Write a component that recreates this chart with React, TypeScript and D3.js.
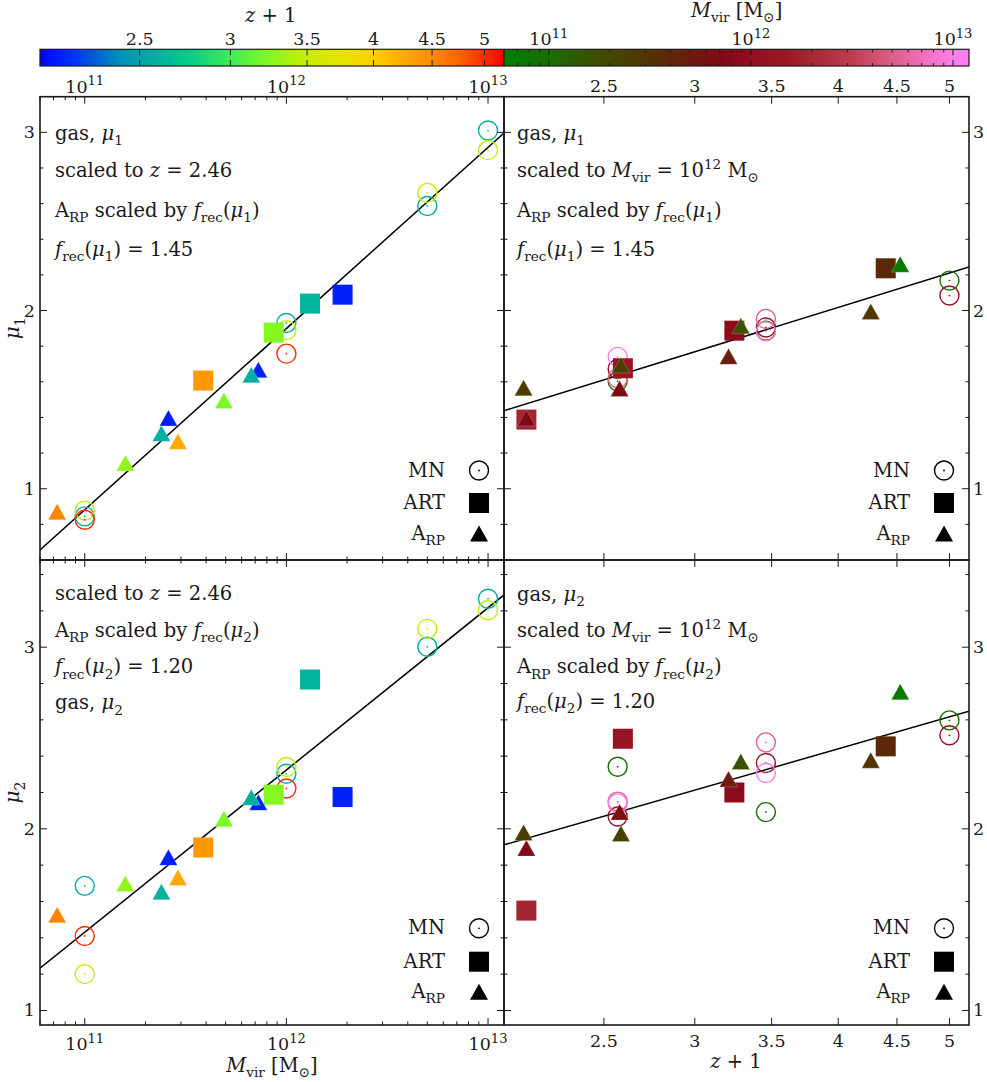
import React from 'react';
import * as d3 from 'd3';

// ---------------- data ----------------
// MN simulations (open circles): virial mass, z+1
const mnMass = [1e11, 1e11, 1e11, 1e12, 1e12, 1e12, 5e12, 5e12, 1e13, 1e13];
const mnZ1 = [2.57, 3.46, 5.0, 2.57, 3.46, 5.0, 2.57, 3.46, 2.57, 3.46];
const mnMu1VsMass = [0.845, 0.877, 0.826, 1.93, 1.89, 1.758, 2.587, 2.66, 3.01, 2.9];
const mnMu1VsZ = [1.603, 1.887, 2.168, 1.672, 1.905, 2.084, 1.62, 1.953, 1.74, 1.883];
const mnMu2VsMass = [1.686, 1.2, 1.41, 2.303, 2.34, 2.222, 3.002, 3.101, 3.267, 3.203];
const mnMu2VsZ = [2.342, 2.092, 2.597, 2.068, 2.362, 2.515, 2.15, 2.476, 2.14, 2.307];

// ART simulations (squares)
const artMass = [1.9e12, 1.31e12, 8.65e11, 3.87e11];
const artZ1 = [2.14, 2.597, 3.248, 4.4];
const artMu1VsMass = [2.089, 2.039, 1.876, 1.607];
const artMu1VsZ = [1.388, 1.676, 1.887, 2.237];
const artMu2VsMass = [2.175, 2.822, 2.188, 1.897];
const artMu2VsZ = [1.55, 2.496, 2.2, 2.454];

// ART + radiation pressure (triangles)
const arpMass = [7.26e11, 6.7e11, 4.9e11, 2.6e11, 2.4e11, 2.9e11, 1.59e11, 7.3e10];
const arpZ1 = [2.14, 2.58, 3.21, 2.128, 2.587, 4.27, 3.29, 4.53];
const arpMu1VsMass = [1.668, 1.639, 1.495, 1.397, 1.311, 1.266, 1.145, 0.871];
const arpMu1VsZ = [1.397, 1.563, 1.743, 1.566, 1.694, 1.994, 1.914, 2.26];
const arpMu2VsMass = [2.146, 2.174, 2.056, 1.843, 1.654, 1.732, 1.699, 1.527];
const arpMu2VsZ = [1.894, 2.093, 2.275, 1.98, 1.974, 2.378, 2.37, 2.755];

// fits: mu = intercept + slope * log10(x / pivot)
const fitIntercept = [1.899, 1.892, 2.324, 2.326];
const fitSlope = [1.017, 1.99, 0.893, 1.815];
const fitPivotMass = 1e12;
const fitPivotZ1 = 3.46;

// ticks
const massMajorTicks = [1e11, 1e12, 1e13];
const massTickExp = ['11', '12', '13'];
const z1Ticks = [2.5, 3, 3.5, 4, 4.5, 5];
const z1TickLabels = ['2.5', '3', '3.5', '4', '4.5', '5'];
const muTicks = [1, 2, 3];
const muTickLabels = ['1', '2', '3'];

// colour maps
const zCmapStops = [2.046, 2.2, 2.4, 2.55, 2.75, 2.95, 3.2, 3.46, 3.8, 4.0, 4.3, 4.5, 4.75, 5.0, 5.2];
const zCmapColors = ['#0000ff', '#0038f4', '#0090b8', '#00aba5', '#00cc88', '#30e860', '#78f828', '#c0f000', '#ecdf00', '#ffd000', '#ffa400', '#ff8a00', '#ff6400', '#ff2c00', '#ff0000'];
const mCmapStops = [10.778, 11.0, 11.2, 11.4, 11.6, 11.7, 11.85, 12.0, 12.15, 12.3, 12.5, 12.7, 12.85, 13.0, 13.08];
const mCmapColors = ['#008000', '#196e00', '#3a5200', '#4b3e00', '#5c2808', '#6e1c0e', '#800a16', '#940e22', '#981622', '#a52832', '#be3c50', '#de5f87', '#f06eb9', '#ff7deb', '#ff80f0'];

// ---------------- layout ----------------
const W = 987;
const H = 1082;
const L = { left: 40, mid: 504, right: 969, cbTop: 49.3, cbBot: 66, top: 96.7, midY: 560, bottom: 1025 };
const FONT = '"DejaVu Serif", "Liberation Serif", serif';
const INK = '#1a1a1a';

type Part = { t: string; i?: boolean; s?: 'sub' | 'sup' };
const p = (t: string, i = false, s?: 'sub' | 'sup'): Part => ({ t, i, s });

function Rich({ parts, x, y, size, anchor = 'start', transform, supScale = 0.7 }: { parts: Part[]; x: number; y: number; size: number; anchor?: string; transform?: string; supScale?: number }) {
  let cur = 0;
  return (
    <text x={x} y={y} fontSize={size} textAnchor={anchor as any} transform={transform} fontFamily={FONT} fill={INK} style={{ whiteSpace: 'pre' }}>
      {parts.map((q, k) => {
        const target = q.s === 'sub' ? size * 0.28 : q.s === 'sup' ? -size * 0.42 : 0;
        const dy = target - cur;
        cur = target;
        return (
          <tspan key={k} dy={dy} fontStyle={q.i ? 'italic' : 'normal'} fontSize={q.s ? size * supScale : size}>
            {q.t}
          </tspan>
        );
      })}
    </text>
  );
}

const mu = (n: string) => [p('μ', true), p(n, false, 'sub')];
const frec = (n: string) => [p('f', true), p('rec', false, 'sub'), p('('), ...mu(n), p(')')];
const arp = [p('A'), p('RP', false, 'sub')];
const mvir = [p('M', true), p('vir', false, 'sub')];
const msun = [p('M'), p('⊙', false, 'sub')];

const linesTL: Part[][] = [
  [p('gas, '), ...mu('1')],
  [p('scaled to '), p('z', true), p(' = 2.46')],
  [...arp, p(' scaled by '), ...frec('1')],
  [...frec('1'), p(' = 1.45')],
];
const linesTR: Part[][] = [
  [p('gas, '), ...mu('1')],
  [p('scaled to '), ...mvir, p(' = 10'), p('12', false, 'sup'), p(' '), ...msun],
  [...arp, p(' scaled by '), ...frec('1')],
  [...frec('1'), p(' = 1.45')],
];
const linesBL: Part[][] = [
  [p('scaled to '), p('z', true), p(' = 2.46')],
  [...arp, p(' scaled by '), ...frec('2')],
  [...frec('2'), p(' = 1.20')],
  [p('gas, '), ...mu('2')],
];
const linesBR: Part[][] = [
  [p('gas, '), ...mu('2')],
  [p('scaled to '), ...mvir, p(' = 10'), p('12', false, 'sup'), p(' '), ...msun],
  [...arp, p(' scaled by '), ...frec('2')],
  [...frec('2'), p(' = 1.20')],
];

function triPath(cx: number, cy: number, w: number, h: number) {
  return `M${cx},${cy - h / 2}L${cx + w / 2},${cy + h / 2}L${cx - w / 2},${cy + h / 2}Z`;
}

export default function App() {
  const xMass = d3.scaleLog().domain([6e10, 1.2e13]).range([L.left, L.mid]);
  const xZ = d3.scaleLog().domain([2.046, 5.2]).range([L.mid, L.right]);
  const yTop = d3.scaleLinear().domain([0.6, 3.2]).range([L.midY, L.top]);
  const yBot = d3.scaleLinear().domain([0.92, 3.48]).range([L.bottom, L.midY]);
  const zBar = d3.scaleLog().domain([2.046, 5.2]).range([L.left, L.mid]);
  const mBar = d3.scaleLog().domain([6e10, 1.2e13]).range([L.mid, L.right]);

  const zColor = d3.scaleLinear<string>().domain(zCmapStops).range(zCmapColors).interpolate(d3.interpolateRgb).clamp(true);
  const mColorL = d3.scaleLinear<string>().domain(mCmapStops).range(mCmapColors).interpolate(d3.interpolateRgb).clamp(true);
  const mColor = (m: number) => mColorL(Math.log10(m));

  const massMinor = xMass.ticks().filter((t) => !massMajorTicks.some((m) => Math.abs(m - t) / m < 1e-6));
  const muMinorAll = d3.range(0.6, 3.5, 0.2).map((v) => Math.round(v * 10) / 10).filter((v) => Math.abs(v - Math.round(v)) > 1e-6);

  const panels = [
    { key: 'tl', kind: 'mass', y: yTop, row: 'top', side: 'left', mn: mnMu1VsMass, art: artMu1VsMass, arpv: arpMu1VsMass, fit: 0, lines: linesTL, base: [140, 177, 217, 256], textX: 55, legY: [470.5, 503, 533.5] },
    { key: 'tr', kind: 'z', y: yTop, row: 'top', side: 'right', mn: mnMu1VsZ, art: artMu1VsZ, arpv: arpMu1VsZ, fit: 1, lines: linesTR, base: [140, 177, 217, 256], textX: 517, legY: [470.5, 503, 533.5] },
    { key: 'bl', kind: 'mass', y: yBot, row: 'bot', side: 'left', mn: mnMu2VsMass, art: artMu2VsMass, arpv: arpMu2VsMass, fit: 2, lines: linesBL, base: [599.5, 636.5, 673.3, 709.3], textX: 55, legY: [928.3, 961.7, 991.7] },
    { key: 'br', kind: 'z', y: yBot, row: 'bot', side: 'right', mn: mnMu2VsZ, art: artMu2VsZ, arpv: arpMu2VsZ, fit: 3, lines: linesBR, base: [600.7, 636.7, 673.3, 707.7], textX: 517, legY: [928.3, 961.7, 991.7] },
  ];

  const zStopsGrad = zCmapStops.map((s, k) => ({ off: (zBar(s) - L.left) / (L.mid - L.left), c: zCmapColors[k] }));
  const mStopsGrad = mCmapStops.map((s, k) => ({ off: (mBar(Math.pow(10, s)) - L.mid) / (L.right - L.mid), c: mCmapColors[k] }));

  const TICK_FS = 17.5;
  const TXT_FS = 19.5;

  return (
    <svg width={W} height={H} viewBox={`0 0 ${W} ${H}`} style={{ position: 'absolute', left: 0, top: 0, background: '#fff' }}>
      <defs>
        <linearGradient id="zgrad" gradientUnits="userSpaceOnUse" x1={L.left} x2={L.mid} y1={0} y2={0}>
          {zStopsGrad.map((s, k) => (
            <stop key={k} offset={Math.max(0, Math.min(1, s.off))} stopColor={s.c} />
          ))}
        </linearGradient>
        <linearGradient id="mgrad" gradientUnits="userSpaceOnUse" x1={L.mid} x2={L.right} y1={0} y2={0}>
          {mStopsGrad.map((s, k) => (
            <stop key={k} offset={Math.max(0, Math.min(1, s.off))} stopColor={s.c} />
          ))}
        </linearGradient>
        {panels.map((pn) => {
          const x0 = pn.side === 'left' ? L.left : L.mid;
          const x1 = pn.side === 'left' ? L.mid : L.right;
          const [y1, y0] = pn.y.range();
          return (
            <clipPath id={`clip-${pn.key}`} key={pn.key}>
              <rect x={x0} y={y0} width={x1 - x0} height={y1 - y0} />
            </clipPath>
          );
        })}
      </defs>

      {/* ---------- colour bars ---------- */}
      <rect x={L.left} y={L.cbTop} width={L.mid - L.left} height={L.cbBot - L.cbTop} fill="url(#zgrad)" />
      <rect x={L.mid} y={L.cbTop} width={L.right - L.mid} height={L.cbBot - L.cbTop} fill="url(#mgrad)" />
      {z1Ticks.map((t) => (
        <g key={`zbt${t}`} stroke={INK} strokeWidth={1}>
          <line x1={zBar(t)} x2={zBar(t)} y1={L.cbTop} y2={L.cbTop + 6} />
          <line x1={zBar(t)} x2={zBar(t)} y1={L.cbBot} y2={L.cbBot - 6} />
        </g>
      ))}
      {mBar.ticks().map((t, k) => {
        const major = massMajorTicks.some((m) => Math.abs(m - t) / m < 1e-6);
        const len = major ? 6 : 3;
        return (
          <g key={`mbt${k}`} stroke={INK} strokeWidth={1}>
            <line x1={mBar(t)} x2={mBar(t)} y1={L.cbTop} y2={L.cbTop + len} />
            <line x1={mBar(t)} x2={mBar(t)} y1={L.cbBot} y2={L.cbBot - len} />
          </g>
        );
      })}
      <rect x={L.left} y={L.cbTop} width={L.right - L.left} height={L.cbBot - L.cbTop} fill="none" stroke={INK} strokeWidth={1.2} />
      <line x1={L.mid} x2={L.mid} y1={L.cbTop} y2={L.cbBot} stroke={INK} strokeWidth={1.2} />
      {z1Ticks.map((t, k) => (
        <text key={`zbl${k}`} x={zBar(t)} y={44.5} fontSize={TICK_FS} textAnchor="middle" fontFamily={FONT} fill={INK}>
          {z1TickLabels[k]}
        </text>
      ))}
      {massMajorTicks.map((t, k) => (
        <Rich key={`mbl${k}`} parts={[p('10'), p(massTickExp[k], false, 'sup')]} x={mBar(t)} y={45} size={TICK_FS} anchor="middle" supScale={0.75} />
      ))}
      <Rich parts={[p('z', true), p(' + 1')]} x={270.7} y={21.7} size={TXT_FS} anchor="middle" />
      <Rich parts={[...mvir, p(' ['), ...msun, p(']')]} x={736.7} y={17} size={TXT_FS} anchor="middle" />

      {/* ---------- panels ---------- */}
      {panels.map((pn) => {
        const x = pn.kind === 'mass' ? xMass : xZ;
        const x0 = pn.side === 'left' ? L.left : L.mid;
        const x1 = pn.side === 'left' ? L.mid : L.right;
        const [y1, y0] = pn.y.range();
        const [d0, d1] = pn.y.domain();
        const px = (m: number, z: number) => (pn.kind === 'mass' ? xMass(m) : xZ(z));
        const col = (m: number, z: number) => (pn.kind === 'mass' ? zColor(z) : mColor(m));
        const pivot = pn.kind === 'mass' ? fitPivotMass : fitPivotZ1;
        const [xd0, xd1] = x.domain();
        const fitY = (v: number) => fitIntercept[pn.fit] + fitSlope[pn.fit] * Math.log10(v / pivot);
        const xTicksMajor = pn.kind === 'mass' ? massMajorTicks : z1Ticks;
        const xTicksMinor = pn.kind === 'mass' ? massMinor : [];
        const muMinor = muMinorAll.filter((v) => v > d0 + 1e-6 && v < d1 - 1e-6);
        const lx = x1 - 25;
        const ltx = x1 - 59;
        return (
          <g key={pn.key}>
            {/* fit line */}
            <line
              clipPath={`url(#clip-${pn.key})`}
              x1={x(xd0)}
              x2={x(xd1)}
              y1={pn.y(fitY(xd0))}
              y2={pn.y(fitY(xd1))}
              stroke="#000"
              strokeWidth={1.5}
            />
            {/* MN circles */}
            {mnMass.map((m, k) => {
              const c = col(m, mnZ1[k]);
              const cx = px(m, mnZ1[k]);
              const cy = pn.y(pn.mn[k]);
              return (
                <g key={`mn${k}`}>
                  <circle cx={cx} cy={cy} r={9.5} fill="none" stroke={c} strokeWidth={1.4} />
                  <circle cx={cx} cy={cy} r={0.9} fill={c} />
                </g>
              );
            })}
            {/* ART squares */}
            {artMass.map((m, k) => (
              <rect key={`art${k}`} x={px(m, artZ1[k]) - 10} y={pn.y(pn.art[k]) - 10} width={20} height={20} fill={col(m, artZ1[k])} />
            ))}
            {/* ARP triangles */}
            {arpMass.map((m, k) => (
              <path key={`arp${k}`} d={triPath(px(m, arpZ1[k]), pn.y(pn.arpv[k]), 18, 16)} fill={col(m, arpZ1[k])} stroke="#fff" strokeOpacity={0.35} strokeWidth={0.6} />
            ))}

            {/* frame */}
            <rect x={x0} y={y0} width={x1 - x0} height={y1 - y0} fill="none" stroke={INK} strokeWidth={1.6} />
            {/* x ticks */}
            {xTicksMajor.map((t, k) => (
              <g key={`xM${k}`} stroke={INK} strokeWidth={1}>
                <line x1={x(t)} x2={x(t)} y1={y0} y2={y0 + 7} />
                <line x1={x(t)} x2={x(t)} y1={y1} y2={y1 - 7} />
              </g>
            ))}
            {xTicksMinor.map((t, k) => (
              <g key={`xm${k}`} stroke={INK} strokeWidth={1}>
                <line x1={x(t)} x2={x(t)} y1={y0} y2={y0 + 3.5} />
                <line x1={x(t)} x2={x(t)} y1={y1} y2={y1 - 3.5} />
              </g>
            ))}
            {/* y ticks */}
            {muTicks.map((t, k) => (
              <g key={`yM${k}`} stroke={INK} strokeWidth={1}>
                <line x1={x0} x2={x0 + 7} y1={pn.y(t)} y2={pn.y(t)} />
                <line x1={x1} x2={x1 - 7} y1={pn.y(t)} y2={pn.y(t)} />
              </g>
            ))}
            {muMinor.map((t, k) => (
              <g key={`ym${k}`} stroke={INK} strokeWidth={1}>
                <line x1={x0} x2={x0 + 3.5} y1={pn.y(t)} y2={pn.y(t)} />
                <line x1={x1} x2={x1 - 3.5} y1={pn.y(t)} y2={pn.y(t)} />
              </g>
            ))}
            {/* y tick labels */}
            {muTicks.map((t, k) => (
              <text
                key={`yl${k}`}
                x={pn.side === 'left' ? 35 : 973}
                y={pn.y(t) + 6}
                fontSize={TICK_FS}
                textAnchor={pn.side === 'left' ? 'end' : 'start'}
                fontFamily={FONT}
                fill={INK}
              >
                {muTickLabels[k]}
              </text>
            ))}
            {/* x tick labels */}
            {pn.kind === 'mass'
              ? massMajorTicks.map((t, k) => (
                  <Rich key={`xl${k}`} parts={[p('10'), p(massTickExp[k], false, 'sup')]} x={x(t)} y={pn.row === 'top' ? 92.5 : 1050} size={TICK_FS} anchor="middle" supScale={0.75} />
                ))
              : z1Ticks.map((t, k) => (
                  <text key={`xl${k}`} x={x(t)} y={pn.row === 'top' ? 92.3 : 1047} fontSize={TICK_FS} textAnchor="middle" fontFamily={FONT} fill={INK}>
                    {z1TickLabels[k]}
                  </text>
                ))}
            {/* annotation text */}
            {pn.lines.map((ln, k) => (
              <Rich key={`t${k}`} parts={ln} x={pn.textX} y={pn.base[k]} size={TXT_FS} />
            ))}
            {/* legend */}
            <Rich parts={[p('MN')]} x={ltx} y={pn.legY[0] + 6} size={TXT_FS} anchor="end" />
            <circle cx={lx} cy={pn.legY[0]} r={9.5} fill="none" stroke="#000" strokeWidth={1.4} />
            <circle cx={lx} cy={pn.legY[0]} r={0.9} fill="#000" />
            <Rich parts={[p('ART')]} x={ltx} y={pn.legY[1] + 6} size={TXT_FS} anchor="end" />
            <rect x={lx - 10} y={pn.legY[1] - 10} width={20} height={20} fill="#000" />
            <Rich parts={arp} x={ltx} y={pn.legY[2] + 6} size={TXT_FS} anchor="end" />
            <path d={triPath(lx, pn.legY[2], 18, 16)} fill="#000" />
          </g>
        );
      })}

      {/* axis titles */}
      <Rich parts={mu('1')} x={19} y={(L.top + L.midY) / 2} size={20} anchor="middle" transform={`rotate(-90, 19, ${(L.top + L.midY) / 2})`} />
      <Rich parts={mu('2')} x={19} y={(L.midY + L.bottom) / 2} size={20} anchor="middle" transform={`rotate(-90, 19, ${(L.midY + L.bottom) / 2})`} />
      <Rich parts={[...mvir, p(' ['), ...msun, p(']')]} x={272} y={1071.5} size={TXT_FS} anchor="middle" />
      <Rich parts={[p('z', true), p(' + 1')]} x={736} y={1068} size={TXT_FS} anchor="middle" />
    </svg>
  );
}
